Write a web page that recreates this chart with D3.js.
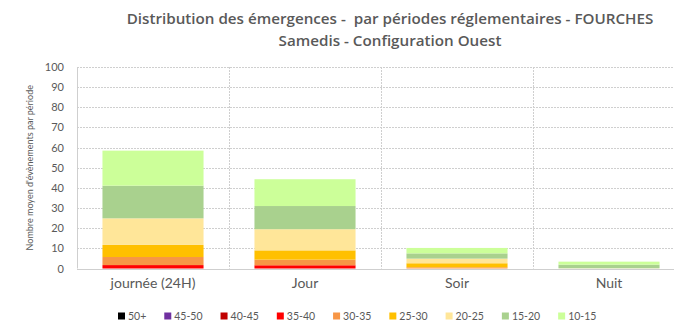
<!DOCTYPE html>
<html>
<head>
<meta charset="utf-8">
<script src="https://cdn.jsdelivr.net/npm/d3@7/dist/d3.min.js"></script>
<style>
  html, body { margin: 0; padding: 0; background: #fff; }
  svg { display: block; font-family: Lato, "Open Sans", sans-serif; }
</style>
</head>
<body>
<svg id="chart" width="674" height="322"></svg>
<script>
// Periods on the x axis
const periods = ["journée (24H)", "Jour", "Soir", "Nuit"];

// Emergence classes (dB), stacked from bottom to top
const classes = ["50+", "45-50", "40-45", "35-40", "30-35", "25-30", "20-25", "15-20", "10-15"];
const classColors = ["#000000", "#7030A0", "#C00000", "#FF0000", "#F79646", "#FFC000", "#FFE699", "#A9D18E", "#CCFF99"];

// Mean number of events per period, one array per class (order of periods)
const v50plus = [0, 0, 0, 0];
const v45_50  = [0, 0, 0, 0];
const v40_45  = [0, 0, 0, 0];
const v35_40  = [1.7, 1.6, 0, 0];
const v30_35  = [4.0, 2.8, 0.6, 0];
const v25_30  = [6.0, 4.6, 2.0, 0];
const v20_25  = [13.2, 10.5, 2.3, 0.1];
const v15_20  = [16.2, 11.5, 2.6, 1.8];
const v10_15  = [17.4, 13.3, 2.7, 1.5];

const yTicks = [0, 10, 20, 30, 40, 50, 60, 70, 80, 90, 100];

const seriesValues = [v50plus, v45_50, v40_45, v35_40, v30_35, v25_30, v20_25, v15_20, v10_15];

const rows = periods.map((p, i) => {
  const r = { period: p };
  classes.forEach((c, k) => { r[c] = seriesValues[k][i]; });
  return r;
});

const svg = d3.select("#chart");
const textColor = "#595959";

const plot = { left: 77, right: 685, top: 67, bottom: 268.5 };

const x = d3.scaleBand()
  .domain(periods)
  .range([plot.left, plot.right])
  .paddingInner(0.335)
  .paddingOuter(0.1675);

const y = d3.scaleLinear()
  .domain([0, 100])
  .range([plot.bottom, plot.top]);

// Horizontal gridlines
svg.append("g")
  .selectAll("line")
  .data(yTicks)
  .join("line")
  .attr("x1", plot.left)
  .attr("x2", plot.right)
  .attr("y1", d => Math.round(y(d)) + 0.5)
  .attr("y2", d => Math.round(y(d)) + 0.5)
  .attr("stroke", "#cfcfcf")
  .attr("stroke-width", 1)
  .attr("stroke-dasharray", d => d === 0 ? null : "2,1");

// Category separators
const step = x.step();
const seps = periods.map((p, i) => plot.left + i * step);
svg.append("g")
  .selectAll("line")
  .data(seps)
  .join("line")
  .attr("x1", d => Math.round(d) + 0.5)
  .attr("x2", d => Math.round(d) + 0.5)
  .attr("y1", plot.top)
  .attr("y2", plot.bottom)
  .attr("stroke", "#cfcfcf")
  .attr("stroke-width", 1)
  .attr("stroke-dasharray", (d, i) => i === 0 ? null : "2,1");

// Stacked bars
const stack = d3.stack().keys(classes);
const layers = stack(rows);

svg.append("g")
  .selectAll("g")
  .data(layers)
  .join("g")
  .attr("fill", (d, i) => classColors[i])
  .selectAll("rect")
  .data(d => d)
  .join("rect")
  .attr("x", d => x(d.data.period))
  .attr("width", x.bandwidth())
  .attr("y", d => y(d[1]))
  .attr("height", d => Math.max(0, y(d[0]) - y(d[1])));

// Y axis tick labels
const yAxis = d3.axisLeft(y).tickValues(yTicks).tickSize(0).tickPadding(0);
const gy = svg.append("g")
  .attr("transform", `translate(${plot.left - 13},0)`)
  .call(yAxis);
gy.select(".domain").remove();
gy.selectAll("text")
  .attr("fill", textColor)
  .style("font-size", "11px")
  .style("font-family", "Lato, 'Open Sans', sans-serif");

// X axis category labels
const xAxis = d3.axisBottom(x).tickSize(0).tickPadding(0);
const gx = svg.append("g")
  .attr("transform", `translate(0,${plot.bottom + 10})`)
  .call(xAxis);
gx.select(".domain").remove();
gx.selectAll("text")
  .attr("fill", textColor)
  .style("font-size", "14px")
  .style("font-family", "Lato, 'Open Sans', sans-serif");

// Y axis title
svg.append("text")
  .attr("transform", `translate(33,${(plot.top + plot.bottom) / 2}) rotate(-90)`)
  .attr("text-anchor", "middle")
  .attr("fill", textColor)
  .style("font-size", "9px")
  .text("Nombre moyen d'évènements par période");

// Title
const title = svg.append("text")
  .attr("text-anchor", "middle")
  .attr("fill", textColor)
  .style("font-family", "'Open Sans', sans-serif")
  .style("font-size", "15.2px")
  .style("font-weight", "600")
  .style("white-space", "pre");
title.append("tspan").attr("x", 390).attr("y", 24)
  .text("Distribution des émergences -  par périodes réglementaires - FOURCHES");
title.append("tspan").attr("x", 390).attr("y", 46)
  .text("Samedis - Configuration Ouest");

// Legend
const legend = svg.append("g");
let lx = 118;
classes.forEach((c, i) => {
  const item = legend.append("g").attr("transform", `translate(${lx},0)`);
  item.append("rect")
    .attr("x", 0).attr("y", 312.5)
    .attr("width", 7).attr("height", 7)
    .attr("fill", classColors[i]);
  const t = item.append("text")
    .attr("x", 10).attr("y", 320)
    .attr("fill", textColor)
    .style("font-size", "10.5px")
    .text(c);
  lx += 10 + t.node().getComputedTextLength() + 18;
});
</script>
</body>
</html>
